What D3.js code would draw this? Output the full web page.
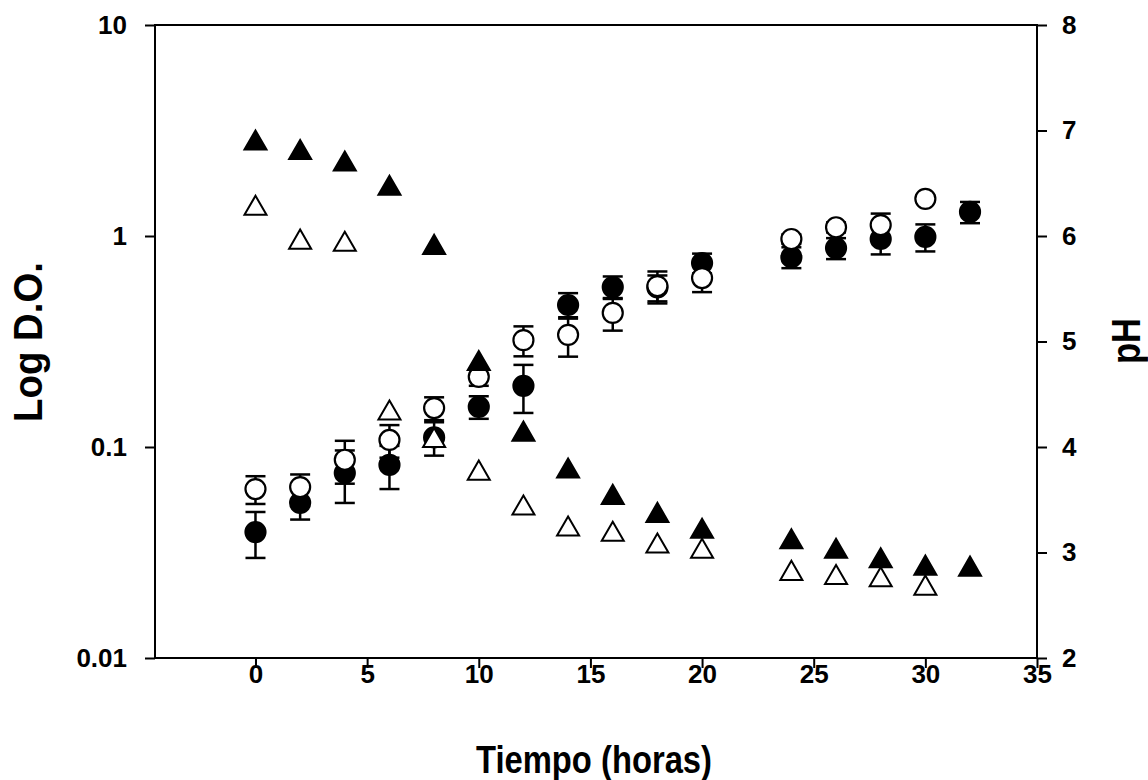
<!DOCTYPE html>
<html>
<head>
<meta charset="utf-8">
<script src="https://d3js.org/d3.v7.min.js"></script>
<style>
  body { margin: 0; background: #fff; }
  text { font-family: Arial, "Liberation Sans", sans-serif; font-weight: bold; }
</style>
</head>
<body>
<svg width="1148" height="780"></svg>
<script>
// time points (horas)
var tiempo = [0, 2, 4, 6, 8, 10, 12, 14, 16, 18, 20, 24, 26, 28, 30, 32];
var tiempoOpen = [0, 2, 4, 6, 8, 10, 12, 14, 16, 18, 20, 24, 26, 28, 30];

// D.O. filled circles, with error
var doFilled = [0.0395, 0.0543, 0.0753, 0.0822, 0.111, 0.155, 0.195, 0.471, 0.573, 0.57, 0.745, 0.794, 0.877, 0.968, 0.99, 1.30];
var doFilledErr = [0.0097, 0.009, 0.021, 0.019, 0.02, 0.019, 0.05, 0.065, 0.07, 0.08, 0.08, 0.09, 0.1, 0.15, 0.145, 0.15];
// D.O. open circles, with error
var doOpen = [0.0632, 0.0646, 0.087, 0.108, 0.153, 0.215, 0.321, 0.340, 0.432, 0.579, 0.632, 0.968, 1.10, 1.127, 1.50];
var doOpenErr = [0.0095, 0.0095, 0.02, 0.019, 0.019, 0.02, 0.052, 0.072, 0.076, 0.1, 0.09, 0.05, 0.06, 0.15, 0.05];

// pH filled triangles / open triangles
var phFilled = [6.89, 6.80, 6.69, 6.46, 5.90, 4.80, 4.13, 3.78, 3.53, 3.36, 3.21, 3.11, 3.02, 2.93, 2.86, 2.85];
var phOpen = [6.27, 5.95, 5.93, 4.33, 4.07, 3.76, 3.43, 3.23, 3.18, 3.07, 3.02, 2.81, 2.77, 2.75, 2.67];

var xTicks = [0, 5, 10, 15, 20, 25, 30, 35];
var yLeftTicks = [0.01, 0.1, 1, 10];
var yRightTicks = [2, 3, 4, 5, 6, 7, 8];

var L = 155, R = 1037, T = 25, B = 658;
var svg = d3.select("svg");

var x = d3.scaleLinear().domain([-4.5, 35]).range([L, R]);
var yL = d3.scaleLog().domain([0.01, 10]).range([B, T]);
var yR = d3.scaleLinear().domain([2, 8]).range([B, T]);

// axes
var gx = svg.append("g").attr("transform", "translate(0," + B + ")")
  .call(d3.axisBottom(x).tickValues(xTicks).tickSize(10).tickPadding(-3).tickFormat(d3.format("d")));
var gl = svg.append("g").attr("transform", "translate(" + L + ",0)")
  .call(d3.axisLeft(yL).tickValues(yLeftTicks).tickSize(10).tickPadding(18).tickFormat(d3.format("~g")));
var gr = svg.append("g").attr("transform", "translate(" + R + ",0)")
  .call(d3.axisRight(yR).tickValues(yRightTicks).tickSize(10).tickPadding(15).tickFormat(d3.format("d")));

[gx, gl, gr].forEach(function(g) {
  g.select(".domain").remove();
  g.selectAll("line").attr("stroke", "#000").attr("stroke-width", 2);
  g.selectAll("text").attr("fill", "#000").style("font-size", "26px");
});

svg.append("rect").attr("x", L).attr("y", T).attr("width", R - L).attr("height", B - T)
  .attr("fill", "none").attr("stroke", "#000").attr("stroke-width", 2);

// titles
svg.append("text").attr("x", 594).attr("y", 773).attr("text-anchor", "middle")
  .attr("textLength", 236).attr("lengthAdjust", "spacingAndGlyphs")
  .style("font-size", "39px").text("Tiempo (horas)");
svg.append("text").attr("transform", "translate(42,342) rotate(-90)").attr("text-anchor", "middle")
  .attr("textLength", 160).attr("lengthAdjust", "spacingAndGlyphs")
  .style("font-size", "41px").text("Log D.O.");
svg.append("text").attr("transform", "translate(1140,341) rotate(-90)").attr("text-anchor", "middle")
  .attr("textLength", 46).attr("lengthAdjust", "spacingAndGlyphs")
  .style("font-size", "41px").text("pH");

var plot = svg.append("g");

function errorBars(times, vals, errs, scale) {
  var data = times.map(function(t, i) { return { t: t, v: vals[i], e: errs[i] }; });
  var g = plot.append("g").attr("stroke", "#000").attr("stroke-width", 2.5);
  data.forEach(function(d) {
    var cx = x(d.t), y0 = scale(d.v - d.e), y1 = scale(d.v + d.e);
    g.append("line").attr("x1", cx).attr("x2", cx).attr("y1", y0).attr("y2", y1);
    g.append("line").attr("x1", cx - 10).attr("x2", cx + 10).attr("y1", y0).attr("y2", y0);
    g.append("line").attr("x1", cx - 10).attr("x2", cx + 10).attr("y1", y1).attr("y2", y1);
  });
}

function circles(times, vals, fill) {
  plot.append("g").selectAll("circle").data(times).enter().append("circle")
    .attr("cx", function(d) { return x(d); })
    .attr("cy", function(d, i) { return yL(vals[i]); })
    .attr("r", 10)
    .attr("fill", fill).attr("stroke", "#000").attr("stroke-width", 2.2);
}

var tri = d3.symbol().type(d3.symbolTriangle).size(210);
function triangles(times, vals, fill) {
  plot.append("g").selectAll("path").data(times).enter().append("path")
    .attr("d", tri)
    .attr("transform", function(d, i) { return "translate(" + x(d) + "," + (yR(vals[i]) + 1) + ")"; })
    .attr("fill", fill).attr("stroke", "#000").attr("stroke-width", 2);
}

errorBars(tiempo, doFilled, doFilledErr, yL);
circles(tiempo, doFilled, "#000");
errorBars(tiempoOpen, doOpen, doOpenErr, yL);
circles(tiempoOpen, doOpen, "#fff");
triangles(tiempo, phFilled, "#000");
triangles(tiempoOpen, phOpen, "#fff");
</script>
</body>
</html>
